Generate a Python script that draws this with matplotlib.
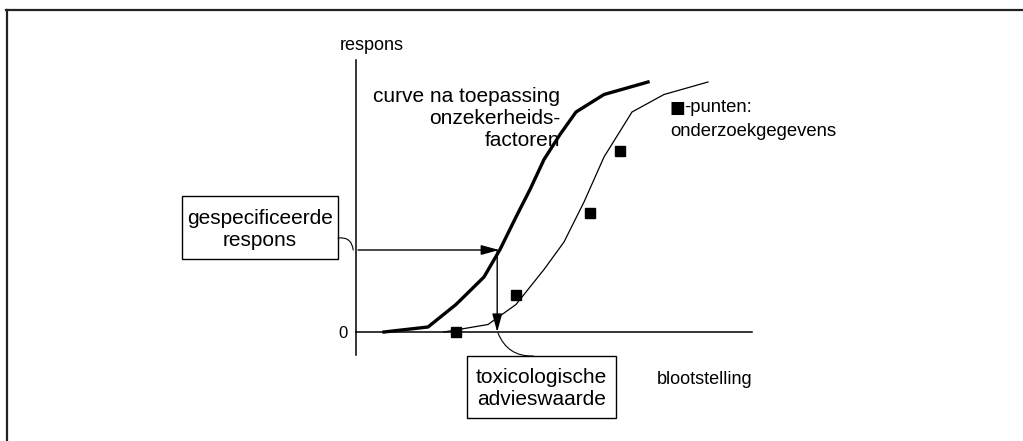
import matplotlib
matplotlib.use("Agg")
import matplotlib.pyplot as plt
from matplotlib.lines import Line2D
from matplotlib.patches import Rectangle

plt.rcParams['font.family'] = ['Liberation Sans', 'DejaVu Sans']

# curve after applying uncertainty factors (thick)
curve_uf_x = [0.7, 1.8, 2.5, 3.2, 3.6, 4.0, 4.35, 4.7, 5.1, 5.5, 6.2, 7.3]
curve_uf_y = [0.0, 0.02, 0.11, 0.22, 0.33, 0.46, 0.57, 0.69, 0.79, 0.88, 0.95, 1.0]

# fitted curve through the study data (thin)
curve_x = [2.2, 3.3, 4.0, 4.5, 4.7, 5.2, 5.7, 6.2, 6.9, 7.7, 8.8]
curve_y = [0.0, 0.03, 0.11, 0.21, 0.25, 0.36, 0.52, 0.70, 0.88, 0.95, 1.0]

# study data points
data_x = [2.5, 4.0, 5.85, 6.6]
data_y = [0.0, 0.148, 0.476, 0.724]

# specified response and resulting advisory value
resp_level = 0.328
advice_x = 3.53

fig = plt.figure(figsize=(10.23, 4.41), dpi=100)
ax = fig.add_axes([0, 0, 1, 1])
ax.set_xlim(-8.9, 16.675)
ax.set_ylim(-0.436, 1.328)

# axes through the origin
for side in ['top', 'right']:
    ax.spines[side].set_visible(False)
ax.spines['left'].set_position(('data', 0))
ax.spines['bottom'].set_position(('data', 0))
ax.spines['left'].set_bounds(-0.092, 1.088)
ax.spines['bottom'].set_bounds(0, 9.9)
ax.spines['left'].set_linewidth(1.1)
ax.spines['bottom'].set_linewidth(1.1)
ax.set_xticks([])
ax.set_yticks([])
ax.patch.set_alpha(0)

ax.plot(curve_uf_x, curve_uf_y, color='black', lw=2.4, solid_joinstyle='round')
ax.plot(curve_x, curve_y, color='black', lw=0.9)
ax.plot(data_x, data_y, 's', color='black', ms=7)

head = '-|>,head_length=1.1,head_width=0.3'
ax.annotate('', xy=(advice_x + 0.05, resp_level), xytext=(0.05, resp_level),
            arrowprops=dict(arrowstyle=head, color='black', lw=1.0,
                            mutation_scale=10, shrinkA=0, shrinkB=0))
ax.annotate('', xy=(advice_x, 0), xytext=(advice_x, resp_level),
            arrowprops=dict(arrowstyle=head, color='black', lw=1.0,
                            mutation_scale=10, shrinkA=0, shrinkB=0))

# label boxes
ax.add_patch(Rectangle((-4.35, 0.292), 3.9, 0.252, fill=False, lw=1.0, ec='black'))
ax.text(-2.4, 0.41, 'gespecificeerde\nrespons', ha='center', va='center',
        fontsize=15, linespacing=1.2)
ax.add_patch(Rectangle((2.775, -0.344), 3.725, 0.248, fill=False, lw=1.0, ec='black'))
ax.text(4.64, -0.225, 'toxicologische\nadvieswaarde', ha='center', va='center',
        fontsize=15, linespacing=1.2)

# curved connectors
ax.annotate('', xy=(-0.07, resp_level), xytext=(-0.45, 0.376),
            arrowprops=dict(arrowstyle='-', color='black', lw=0.8,
                            connectionstyle='arc3,rad=-0.5', shrinkA=0, shrinkB=0))
ax.annotate('', xy=(4.43, -0.096), xytext=(advice_x + 0.02, -0.004),
            arrowprops=dict(arrowstyle='-', color='black', lw=0.8,
                            connectionstyle='arc3,rad=0.35', shrinkA=0, shrinkB=0))

ax.text(0.4, 1.148, 'respons', ha='center', va='center', fontsize=13)
ax.text(-0.33, -0.008, '0', ha='center', va='center', fontsize=12)
ax.text(7.525, -0.19, 'blootstelling', ha='left', va='center', fontsize=13)
ax.text(5.1, 0.852, 'curve na toepassing\nonzekerheids-\nfactoren', ha='right',
        va='center', fontsize=15, linespacing=1.2)

# legend-like note for the data points
ax.text(7.85, 0.898, '\u25a0', ha='left', va='center', fontsize=12,
        family='DejaVu Sans')
ax.text(8.2, 0.898, '-punten:', ha='left', va='center', fontsize=13.3)
ax.text(7.85, 0.8, 'onderzoekgegevens', ha='left', va='center', fontsize=13.3)

# outer frame (top and left edge only)
fig.add_artist(Line2D([6 / 1023, 1], [1 - 10 / 441] * 2, color='#222222', lw=1.6))
fig.add_artist(Line2D([7 / 1023] * 2, [0, 1 - 10 / 441], color='#222222', lw=1.6))

fig.savefig('out.png', dpi=100)
